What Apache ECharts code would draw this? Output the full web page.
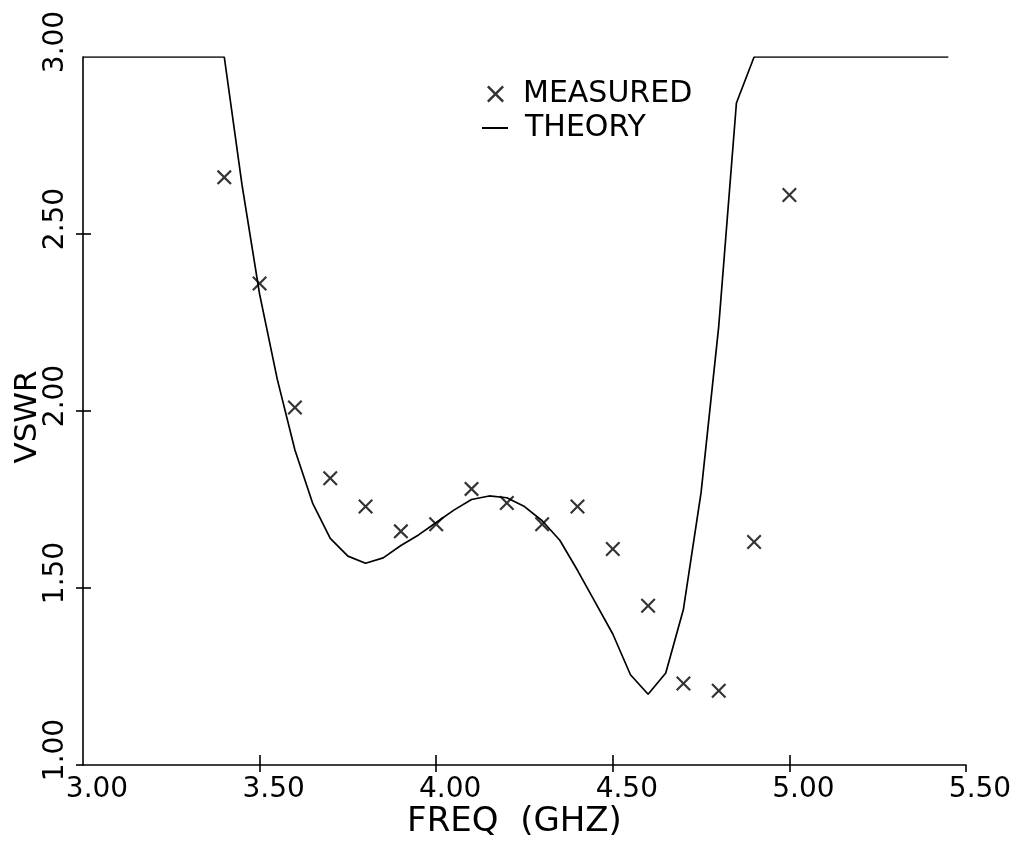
<!DOCTYPE html>
<html>
<head>
<meta charset="utf-8">
<script src="https://cdn.jsdelivr.net/npm/echarts@6/dist/echarts.min.js"></script>
<style>
html,body{margin:0;padding:0;background:#fff;}
#chart{width:1025px;height:843px;}
</style>
</head>
<body>
<div id="chart"></div>
<script>
// ---- data ----
const measFreq = [3.40, 3.50, 3.60, 3.70, 3.80, 3.90, 4.00, 4.10, 4.20, 4.30, 4.40, 4.50, 4.60, 4.70, 4.80, 4.90, 5.00];
const measVswr = [2.66, 2.36, 2.01, 1.81, 1.73, 1.66, 1.68, 1.78, 1.74, 1.68, 1.73, 1.61, 1.45, 1.23, 1.21, 1.63, 2.61];

const theoryFreq = [3.00, 3.40, 3.45, 3.50, 3.55, 3.60, 3.65, 3.70, 3.75, 3.80, 3.85, 3.90, 3.95, 4.00, 4.05, 4.10, 4.15, 4.20, 4.25, 4.30, 4.35, 4.40, 4.45, 4.50, 4.55, 4.60, 4.65, 4.70, 4.75, 4.80, 4.85, 4.90, 5.45];
const theoryVswr = [3.00, 3.00, 2.64, 2.33, 2.09, 1.89, 1.74, 1.64, 1.59, 1.57, 1.585, 1.62, 1.65, 1.685, 1.72, 1.75, 1.76, 1.755, 1.73, 1.69, 1.635, 1.55, 1.46, 1.37, 1.255, 1.20, 1.26, 1.44, 1.77, 2.24, 2.87, 3.00, 3.00];

const xTickValues = [3.00, 3.50, 4.00, 4.50, 5.00, 5.50];
const xTickLabels = ['3.00', '3.50', '4.00', '4.50', '5.00', '5.50'];
const yTickValues = [1.00, 1.50, 2.00, 2.50, 3.00];
const yTickLabels = ['1.00', '1.50', '2.00', '2.50', '3.00'];

const seriesNames = ['MEASURED', 'THEORY'];
const xAxisTitle = 'FREQ  (GHZ)';
const yAxisTitle = 'VSWR';

// ---- chart ----
const FONT = 'DejaVu Sans';
const crossPath = 'path://M0,1.84 L1.84,0 L9,7.16 L16.16,0 L18,1.84 L10.84,9 L18,16.16 L16.16,18 L9,10.84 L1.84,18 L0,16.16 L7.16,9 Z';

function lookup(vals, labels, v) {
  for (let i = 0; i < vals.length; i++) if (Math.abs(vals[i] - v) < 1e-6) return labels[i];
  return '';
}

const chart = echarts.init(document.getElementById('chart'), null, {renderer: 'canvas'});
const option = {
  backgroundColor: '#ffffff',
  animation: false,
  grid: {left: 83, right: 59, top: 57, bottom: 78, containLabel: false, outerBoundsMode: 'none'},
  legend: [
    {
      data: [{name: seriesNames[0], icon: crossPath}],
      orient: 'vertical', left: 482, top: 74,
      itemWidth: 17, itemHeight: 17,
      textStyle: {fontFamily: FONT, fontSize: 30, color: '#000', rich: {g: {width: 14}}},
      formatter: n => '{g|}' + n,
      selectedMode: false
    },
    {
      data: [{name: seriesNames[1], icon: 'rect'}],
      orient: 'vertical', left: 477, top: 108,
      itemWidth: 26, itemHeight: 2,
      textStyle: {fontFamily: FONT, fontSize: 30, color: '#000', rich: {g: {width: 12}}},
      formatter: n => '{g|}' + n,
      selectedMode: false
    }
  ],
  xAxis: [
    {
      type: 'value', min: 3, max: 5.5, interval: 0.5, position: 'bottom',
      axisLine: {show: true, onZero: false, lineStyle: {color: '#000', width: 1.6}},
      axisTick: {show: true, inside: false, length: 7, customValues: [3.5, 4.0, 4.5, 5.0, 5.5], lineStyle: {color: '#000', width: 1.6}},
      axisLabel: {
        show: true, customValues: xTickValues, margin: 11, fontFamily: FONT, fontSize: 28, color: '#000',
        rich: {g: {width: 28}},
        formatter: v => '{g|}' + lookup(xTickValues, xTickLabels, v)
      },
      splitLine: {show: false},
      name: xAxisTitle, nameLocation: 'middle', nameGap: 40, nameMoveOverlap: false,
      nameTextStyle: {fontFamily: FONT, fontSize: 34, color: '#000', padding: [0, 20, 0, 0]}
    },
    {
      type: 'value', min: 3, max: 5.5, interval: 0.5, position: 'bottom', gridIndex: 0,
      axisLine: {show: false},
      axisTick: {show: true, inside: true, length: 10, customValues: [3.5, 4.0, 4.5, 5.0], lineStyle: {color: '#000', width: 1.6}},
      axisLabel: {show: false},
      splitLine: {show: false}
    }
  ],
  yAxis: [
    {
      type: 'value', min: 1, max: 3, interval: 0.5, position: 'left',
      axisLine: {show: true, onZero: false, lineStyle: {color: '#000', width: 1.6}},
      axisTick: {show: true, inside: false, length: 7, customValues: [1.0, 1.5, 2.0, 2.5], lineStyle: {color: '#000', width: 1.6}},
      axisLabel: {
        show: true, customValues: yTickValues, rotate: 90, margin: 13, fontFamily: FONT, fontSize: 28, color: '#000',
        rich: {g: {width: 30}},
        formatter: v => '{g|}' + lookup(yTickValues, yTickLabels, v)
      },
      splitLine: {show: false},
      name: yAxisTitle, nameLocation: 'middle', nameGap: 40, nameRotate: 90, nameMoveOverlap: false,
      nameTextStyle: {fontFamily: FONT, fontSize: 31, color: '#000', padding: [0, 12, 0, 0]}
    },
    {
      type: 'value', min: 1, max: 3, interval: 0.5, position: 'left', gridIndex: 0,
      axisLine: {show: false},
      axisTick: {show: true, inside: true, length: 8, customValues: [1.5, 2.0, 2.5], lineStyle: {color: '#000', width: 1.6}},
      axisLabel: {show: false},
      splitLine: {show: false}
    }
  ],
  series: [
    {
      name: seriesNames[0], type: 'scatter', xAxisIndex: 0, yAxisIndex: 0,
      symbol: crossPath, symbolSize: 15,
      itemStyle: {color: '#000'},
      data: measFreq.map((f, i) => [f, measVswr[i]]),
      z: 3
    },
    {
      name: seriesNames[1], type: 'line', xAxisIndex: 0, yAxisIndex: 0,
      showSymbol: false, symbol: 'none',
      lineStyle: {color: '#000', width: 1.7},
      itemStyle: {color: '#000'},
      data: theoryFreq.map((f, i) => [f, theoryVswr[i]]),
      z: 2
    }
  ]
};
chart.setOption(option);
</script>
</body>
</html>
